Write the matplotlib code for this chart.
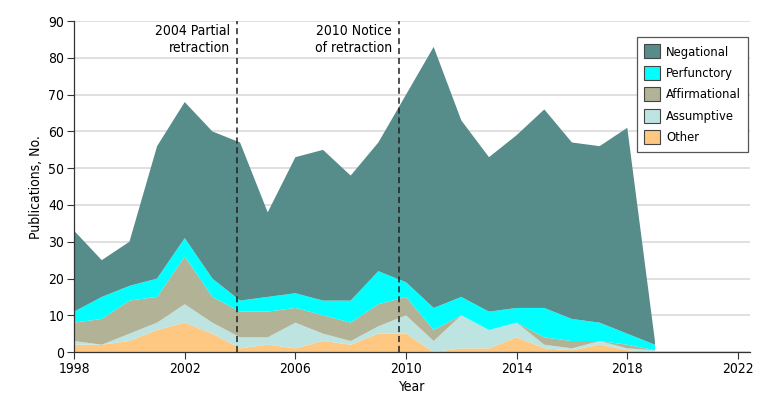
import matplotlib
matplotlib.use('Agg')
import matplotlib.pyplot as plt
from matplotlib.patches import Patch

plt.rcParams['font.family'] = ['DejaVu Sans']
plt.rcParams['font.stretch'] = 'condensed'
plt.rcParams['font.size'] = 10

years = list(range(1998, 2020))

# Values per category (stack order bottom to top)
other = [2, 2, 3, 6, 8, 5, 1, 2, 1, 3, 2, 5, 5, 0, 1, 1, 4, 1, 0.5, 2, 0.5, 0]
assumptive = [1, 0, 2, 2, 5, 3, 3, 2, 7, 2, 1, 2, 5, 3, 9, 5, 4, 1, 0.5, 1, 0.5, 0.5]
affirmational = [5, 7, 9, 7, 13, 7, 7, 7, 4, 5, 5, 6, 5, 3, 0, 0, 0, 2, 2, 0, 1, 0]
perfunctory = [3, 6, 4, 5, 5, 5, 3, 4, 4, 4, 6, 9, 4, 6, 5, 5, 4, 8, 6, 5, 3, 1.5]
negational = [22, 10, 12, 36, 37, 40, 43, 23, 37, 41, 34, 35, 51, 71, 48, 42, 47, 54, 48, 48, 56, 1]

labels = ['Other', 'Assumptive', 'Affirmational', 'Perfunctory', 'Negational']
colors = ['#FEC782', '#BEE4E2', '#B2B296', '#00FFFF', '#568C8A']

events = [2003.9, 2009.75]
event_text = ['2004 Partial\nretraction', '2010 Notice\nof retraction']

fig = plt.figure(figsize=(7.8, 4.07), dpi=100)
ax = fig.add_axes([0.095, 0.135, 0.867, 0.813])

ax.grid(axis='y', color='#e0e0e0', linewidth=1.4, zorder=0)
ax.set_axisbelow(True)

ax.stackplot(years, other, assumptive, affirmational, perfunctory, negational,
             colors=colors, linewidth=0, edgecolor='none', zorder=2)

for x, t in zip(events, event_text):
    ax.axvline(x, color='#222222', linestyle=(0, (4, 2.5)), linewidth=1.1, zorder=3)
    ax.text(x - 0.25, 89.3, t, ha='right', va='top', linespacing=1.3)

ax.set_xlim(1998, 2022.45)
ax.set_ylim(0, 90)
ax.set_xticks(range(1998, 2023, 4))
ax.set_yticks(range(0, 91, 10))
ax.tick_params(direction='out', length=5, width=0.8, color='#333333', pad=2)
for s in ['top', 'right']:
    ax.spines[s].set_visible(False)
for s in ['left', 'bottom']:
    ax.spines[s].set_color('#333333')
    ax.spines[s].set_linewidth(0.9)

ax.set_xlabel('Year', labelpad=3)
ax.set_ylabel('Publications, No.', labelpad=4)

handles = [Patch(facecolor=c, edgecolor='#444444', linewidth=0.8, label=l)
           for c, l in zip(colors, labels)][::-1]
leg = ax.legend(handles=handles, loc='upper right', bbox_to_anchor=(0.997, 0.952),
                borderaxespad=0, fancybox=False, edgecolor='#555555', framealpha=1,
                fontsize=9.3, handlelength=1.3, handleheight=1.3, handletextpad=0.45,
                labelspacing=0.55, borderpad=0.55)
leg.get_frame().set_linewidth(0.9)

fig.savefig('out.png', dpi=100)
